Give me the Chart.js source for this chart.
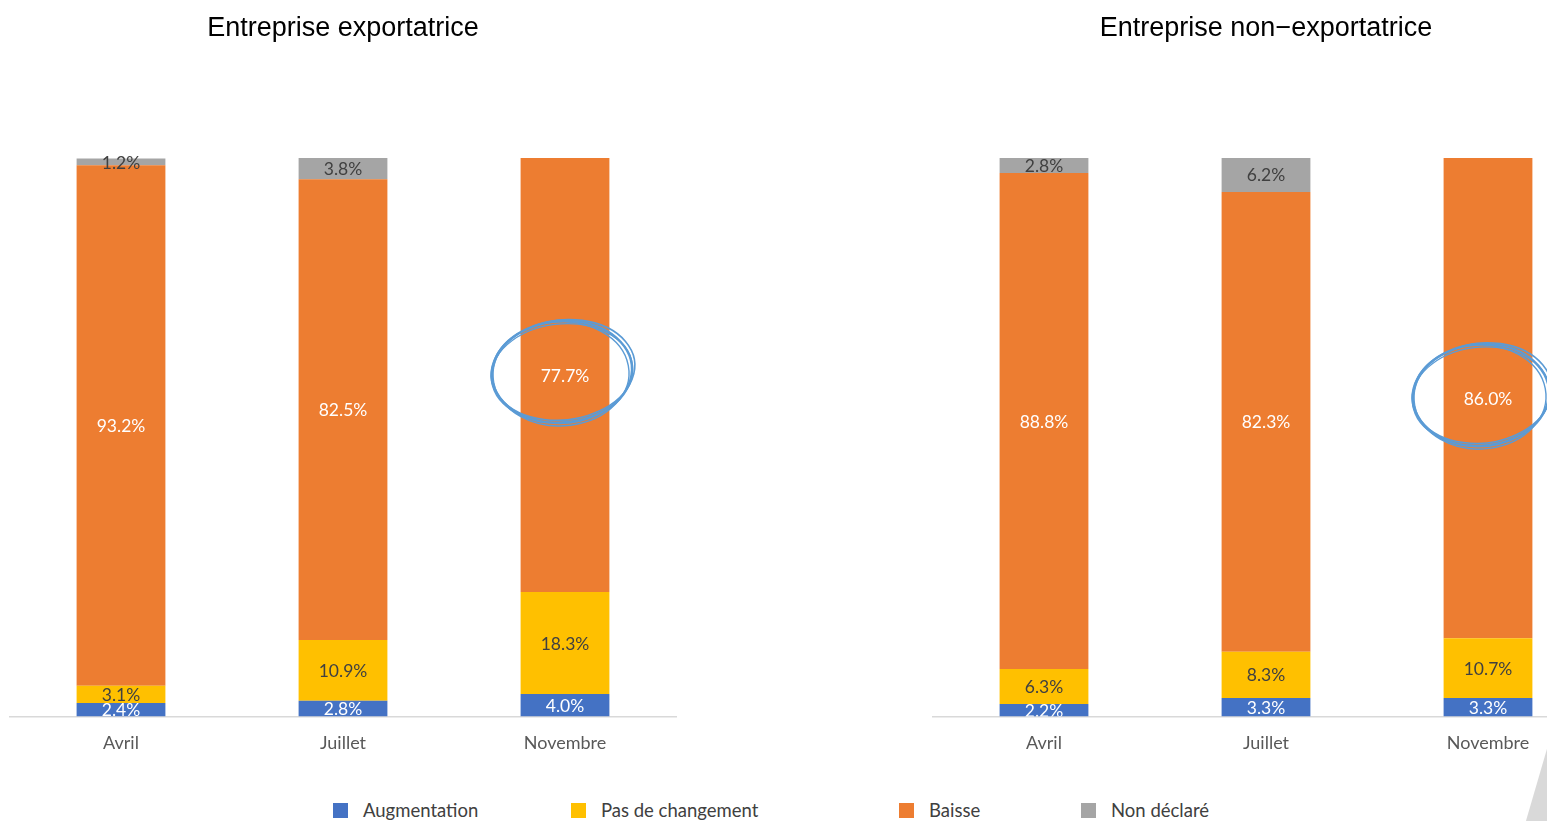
<!DOCTYPE html>
<html>
<head>
<meta charset="utf-8">
<script src="https://cdn.jsdelivr.net/npm/chart.js@4"></script>
<style>
  html, body { margin: 0; padding: 0; background: #fff; overflow: hidden; width: 1547px; height: 821px; }
  .box { position: absolute; top: 0; width: 686px; height: 780px; }
  #left { left: 0; }
  #right { left: 923px; }
  #legend { position: absolute; top: 799px; left: 0; width: 1547px; height: 22px; font-family: Lato, "Noto Sans", sans-serif; font-size: 18.5px; color: #404040; }
  .item { position: absolute; top: 0; display: flex; align-items: center; height: 22px; }
  .item span.sw { width: 15px; height: 15px; margin-right: 15px; display: inline-block; }
  #tri { position: absolute; left: 1520px; top: 745px; width: 27px; height: 76px; background: #d9d9d9; clip-path: polygon(100% 5%, 22% 100%, 100% 100%); }
</style>
</head>
<body>
<div class="box" id="left"><canvas id="chartExp"></canvas></div>
<div class="box" id="right"><canvas id="chartNonExp"></canvas></div>
<div id="legend"></div>
<div id="tri"></div>
<script>
const categories = ['Avril', 'Juillet', 'Novembre'];
const seriesNames = ['Augmentation', 'Pas de changement', 'Baisse', 'Non déclaré'];

// Entreprise exportatrice
const expAugmentation = [2.4, 2.8, 4.0];
const expPasDeChangement = [3.1, 10.9, 18.3];
const expBaisse = [93.2, 82.5, 77.7];
const expNonDeclare = [1.2, 3.8, 0];

// Entreprise non-exportatrice
const nonExpAugmentation = [2.2, 3.3, 3.3];
const nonExpPasDeChangement = [6.3, 8.3, 10.7];
const nonExpBaisse = [88.8, 82.3, 86.0];
const nonExpNonDeclare = [2.8, 6.2, 0];

const colors = ['#4472C4', '#FFC000', '#ED7D31', '#A5A5A5'];
const labelColors = ['#ffffff', '#404040', '#ffffff', '#404040'];

const barLabels = {
    id: 'barLabels',
    afterDatasetsDraw(chart) {
        const ctx = chart.ctx;
        ctx.save();
        ctx.beginPath();
        ctx.rect(0, 0, chart.width, chart.chartArea.bottom);
        ctx.clip();
        ctx.font = '17.5px Lato, "Noto Sans", sans-serif';
        ctx.textAlign = 'center';
        ctx.textBaseline = 'middle';
        chart.data.datasets.forEach(function(ds, i) {
            chart.getDatasetMeta(i).data.forEach(function(bar, j) {
                const v = ds.data[j];
                if (!v) return;
                ctx.fillStyle = labelColors[i];
                ctx.fillText(v.toFixed(1) + '%', bar.x, (bar.y + bar.base) / 2 + 1);
            });
        });
        ctx.restore();
    }
};

// hand drawn circle round one bar segment
const handCircle = {
    id: 'handCircle',
    afterDraw(chart, args, opts) {
        if (!opts || opts.dataset === undefined) return;
        const bar = chart.getDatasetMeta(opts.dataset).data[opts.index];
        const cx = bar.x + opts.dx;
        const cy = (bar.y + bar.base) / 2 + opts.dy;
        const ctx = chart.ctx;
        ctx.save();
        ctx.strokeStyle = '#5B9BD5';
        ctx.lineCap = 'round';
        const passes = [
            [0, 0, 0, 0, 2.4, -0.08, -1.3, 2 * Math.PI - 1.1],
            [1, -2, 2, -1, 1.6, -0.12, -2.0, 2 * Math.PI - 1.6],
            [-1, 2, -2, 1, 1.4, -0.04, -0.9, 2 * Math.PI - 0.7],
            [0, 1, 1, -2, 1.2, -0.1, -1.6, 2 * Math.PI - 1.2]
        ];
        passes.forEach(function(p) {
            ctx.lineWidth = p[4];
            ctx.beginPath();
            ctx.ellipse(cx + p[0], cy + p[1], opts.rx + p[2], opts.ry + p[3], p[5], p[6], p[7]);
            ctx.stroke();
        });
        ctx.restore();
    }
};

function makeChart(id, title, a, b, c, d, circle) {
    const series = [a, b, c, d];
    return new Chart(document.getElementById(id), {
        type: 'bar',
        data: {
            labels: categories,
            datasets: series.map(function(values, i) {
                return {
                    label: seriesNames[i],
                    data: values,
                    backgroundColor: colors[i],
                    borderWidth: 0,
                    barPercentage: 0.4,
                    categoryPercentage: 1
                };
            })
        },
        options: {
            responsive: true,
            maintainAspectRatio: false,
            animation: false,
            layout: { padding: { left: 10, right: 10, top: 0, bottom: 10 } },
            scales: {
                x: {
                    stacked: true,
                    grid: { display: false, drawTicks: false },
                    border: { display: true, color: '#d9d9d9', width: 1.5 },
                    ticks: { color: '#595959', padding: 16, font: { family: 'Lato, "Noto Sans", sans-serif', size: 18 } }
                },
                y: {
                    stacked: true,
                    display: false,
                    min: 0,
                    max: 100
                }
            },
            plugins: {
                legend: { display: false },
                tooltip: { enabled: false },
                title: {
                    display: true,
                    text: title,
                    color: '#000000',
                    font: { family: '"Liberation Sans", Arial, sans-serif', size: 27, weight: 'normal', lineHeight: 1.2 },
                    padding: { top: 12, bottom: 113.6 }
                },
                handCircle: circle
            }
        },
        plugins: [barLabels, handCircle]
    });
}

makeChart('chartExp', 'Entreprise exportatrice',
    expAugmentation, expPasDeChangement, expBaisse, expNonDeclare,
    { dataset: 2, index: 2, dx: -3, dy: -3, rx: 70, ry: 51 });
makeChart('chartNonExp', 'Entreprise non\u2212exportatrice',
    nonExpAugmentation, nonExpPasDeChangement, nonExpBaisse, nonExpNonDeclare,
    { dataset: 2, index: 2, dx: -7, dy: -3, rx: 68, ry: 51 });

// legend shared by both charts
const legendLeft = [333, 571, 899, 1081];
const legend = document.getElementById('legend');
seriesNames.forEach(function(name, i) {
    const item = document.createElement('div');
    item.className = 'item';
    item.style.left = legendLeft[i] + 'px';
    item.innerHTML = '<span class="sw" style="background:' + colors[i] + '"></span>' + name;
    legend.appendChild(item);
});
</script>
</body>
</html>
